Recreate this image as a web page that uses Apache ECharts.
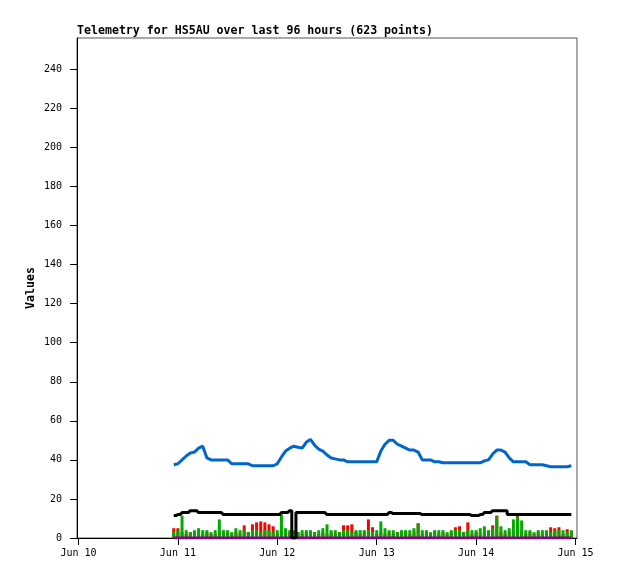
<!DOCTYPE html>
<html>
<head>
<meta charset="utf-8">
<script src="https://cdn.jsdelivr.net/npm/echarts@6/dist/echarts.min.js"></script>
<style>
html,body{margin:0;padding:0;background:#fff;}
#chart{width:618px;height:579px;}
</style>
</head>
<body>
<div id="chart"></div>
<script>
// ---- data (hourly samples starting Jun 10 23:00) ----
const titleText = 'Telemetry for HS5AU over last 96 hours (623 points)';
const startTime = Date.UTC(2024, 5, 10, 23, 0, 0);
const axisStart = Date.UTC(2024, 5, 10, 0, 0, 0);
const axisEnd = Date.UTC(2024, 5, 15, 0, 0, 0);
const yTicks = [0, 20, 40, 60, 80, 100, 120, 140, 160, 180, 200, 220, 240];

const blueValues = [
  37.5, 38, 40, 42, 43.5, 44, 46, 47, 41, 40,
  40, 40, 40, 40, 38, 38, 38, 38, 38, 37,
  37, 37, 37, 37, 37, 38, 41.5, 44.5, 46, 47,
  46.5, 46, 49, 50.5, 47.5, 45.5, 44.5, 42.5, 41, 40.5,
  40, 40, 39, 39, 39, 39, 39, 39, 39, 39,
  44.5, 48, 50, 50, 48, 47, 46, 45, 45, 44,
  40, 40, 40, 39, 39, 38.5, 38.5, 38.5, 38.5, 38.5,
  38.5, 38.5, 38.5, 38.5, 38.5, 39.5, 40, 43, 45, 45,
  44, 41, 39, 39, 39, 39, 37.5, 37.5, 37.5, 37.5,
  37, 36.5, 36.5, 36.5, 36.5, 36.5, 37
];
const blackValues = [
  11.5, 12, 13, 13, 14, 14, 13, 13, 13, 13,
  13, 13, 12, 12, 12, 12, 12, 12, 12, 12,
  12, 12, 12, 12, 12, 12, 13, 13, 14, 0,
  13, 13, 13, 13, 13, 13, 13, 12, 12, 12,
  12, 12, 12, 12, 12, 12, 12, 12, 12, 12,
  12, 12, 13, 12.5, 12.5, 12.5, 12.5, 12.5, 12.5, 12.5,
  12, 12, 12, 12, 12, 12, 12, 12, 12, 12,
  12, 12, 11.5, 11.5, 12, 13, 13, 14, 14, 14,
  14, 12, 12, 12, 12, 12, 12, 12, 12, 12,
  12, 12, 12, 12, 12, 12, 12
];
const greenValues = [
  3, 4, 11.5, 4, 3, 4, 5, 4, 4, 3,
  4, 9.5, 4, 4, 3, 5, 4, 4, 3, 4,
  4, 3, 4, 4, 3, 4, 12, 5, 4, 4,
  3, 4, 4, 4, 3, 4, 5, 7, 4, 4,
  3, 4, 4, 3, 4, 4, 4, 4, 3, 4,
  8.5, 5, 4, 4, 3, 4, 4, 4, 5, 7.5,
  4, 4, 3, 4, 4, 4, 3, 4, 4, 4,
  3, 4, 4, 4, 5, 6, 4, 5, 11, 6,
  4, 5, 9.5, 11, 9, 4, 4, 3, 4, 4,
  4, 3, 4, 4, 4, 3, 4
];
const redValues = [
  5, 5, 3, 2, 3, 2, 3, 2, 3, 2,
  2, 3, 2, 3, 2, 3, 2, 6.5, 3, 7,
  8, 8.5, 8, 7, 6, 2, 3, 2, 3, 2,
  3, 2, 3, 2, 3, 2, 3, 2, 3, 2,
  3, 6.5, 6.5, 7, 3, 2, 3, 9.5, 5.5, 2,
  3, 2, 3, 2, 3, 2, 3, 2, 3, 7.5,
  2, 3, 2, 3, 2, 3, 2, 3, 5.5, 6,
  3, 8, 2, 3, 2, 3, 2, 6.5, 11.5, 3,
  2, 3, 2, 11.5, 3, 2, 3, 2, 3, 2,
  3, 5.5, 5, 5.5, 2, 4.5, 3
];
const purpleHours = [0, 96];
const purpleValues = [0, 0];

const HOUR = 3600000;
const toSeries = vals => vals.map((v, i) => [startTime + i * HOUR, v]);
const months = ['Jan','Feb','Mar','Apr','May','Jun','Jul','Aug','Sep','Oct','Nov','Dec'];

const chart = echarts.init(document.getElementById('chart'), null, {renderer: 'canvas'});
const mono = 'DejaVu Sans Mono';
chart.setOption({
  animation: false,
  backgroundColor: '#fff',
  title: {
    text: titleText,
    left: 77, top: 25, padding: 0,
    textStyle: {fontFamily: mono, fontSize: 11.6, fontWeight: 'bold', color: '#000'}
  },
  grid: {left: 77, right: 41, top: 38, bottom: 41, show: true, borderColor: '#555', borderWidth: 1, backgroundColor: 'transparent'},
  xAxis: {
    type: 'time', min: axisStart, max: axisEnd, interval: 24 * HOUR,
    splitLine: {show: false},
    axisLine: {show: true, lineStyle: {color: '#000', width: 1}},
    axisTick: {show: true, length: 7, inside: false, lineStyle: {color: '#000'}},
    axisLabel: {
      margin: 10, fontFamily: mono, fontSize: 10, color: '#000',
      formatter: v => { const d = new Date(v); return months[d.getUTCMonth()] + ' ' + d.getUTCDate(); }
    }
  },
  yAxis: {
    type: 'value', min: 0, max: 256,
    name: 'Values', nameLocation: 'middle', nameGap: 40, nameMoveOverlap: false,
    nameTextStyle: {fontFamily: mono, fontSize: 11.6, fontWeight: 'bold', color: '#000'},
    splitLine: {show: false},
    axisLine: {show: true, lineStyle: {color: '#000', width: 1}},
    axisTick: {show: true, length: 7, inside: false, lineStyle: {color: '#000'}, customValues: yTicks},
    axisLabel: {margin: 15, fontFamily: mono, fontSize: 10, color: '#000', customValues: yTicks}
  },
  series: [
    {type: 'bar', data: toSeries(redValues), barWidth: 3, itemStyle: {color: '#ff0000'}, barGap: '-100%'},
    {type: 'bar', data: toSeries(greenValues), barWidth: 3, itemStyle: {color: '#00aa00'}, barGap: '-100%'},
    {type: 'line', data: purpleHours.map((h, i) => [startTime + h * HOUR, purpleValues[i]]), symbol: 'none',
      lineStyle: {color: '#880088', width: 3}},
    {type: 'line', data: toSeries(blackValues), symbol: 'none', step: 'middle',
      lineStyle: {color: '#000', width: 3}},
    {type: 'line', data: toSeries(blueValues), symbol: 'none',
      lineStyle: {color: '#0066cc', width: 3}}
  ]
});
</script>
</body>
</html>
